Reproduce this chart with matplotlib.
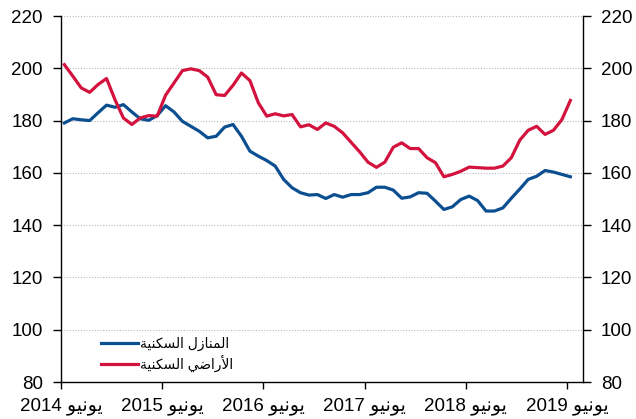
import matplotlib
matplotlib.use("Agg")
import matplotlib.pyplot as plt
import numpy as np

plt.rcParams['font.family'] = ['Liberation Sans', 'DejaVu Sans']

# monthly index, June 2014 .. June 2019
houses = [179.1, 180.7, 180.3, 180.0, 183.0, 185.9, 185.1, 186.1, 183.3, 180.7,
          180.1, 181.9, 185.7, 183.3, 179.7, 177.8, 175.9, 173.4, 174.0, 177.5,
          178.5, 174.0, 168.3, 166.4, 164.7, 162.6, 157.5, 154.3, 152.4, 151.5,
          151.7, 150.2, 151.7, 150.7, 151.7, 151.7, 152.4, 154.5, 154.5, 153.4,
          150.3, 150.8, 152.4, 152.2, 149.2, 146.0, 147.0, 149.8, 151.1, 149.4,
          145.4, 145.4, 146.6, 150.3, 153.8, 157.5, 158.7, 160.9, 160.3, 159.4,
          158.5]
land = [201.4, 197.0, 192.5, 190.8, 193.8, 196.1, 188.0, 181.0, 178.5, 181.0,
        181.9, 181.7, 189.7, 194.4, 199.1, 199.8, 199.1, 196.6, 189.9, 189.6,
        193.5, 198.2, 195.3, 186.8, 181.7, 182.6, 181.8, 182.3, 177.6, 178.4,
        176.6, 179.1, 177.8, 175.3, 171.7, 168.1, 164.1, 162.1, 164.1, 169.8,
        171.5, 169.3, 169.3, 165.8, 163.9, 158.5, 159.4, 160.6, 162.2, 162.0,
        161.8, 161.8, 162.6, 165.8, 172.5, 176.3, 177.8, 174.7, 176.3, 180.4,
        187.7]
years = [2014, 2015, 2016, 2017, 2018, 2019]

# Arabic written in presentation forms, visual (left-to-right) order
june = "\ufeee\ufef4\ufee7\ufeee\ufef3"
lbl_houses = "\ufe94\ufef4\ufee8\ufedc\ufeb4\ufedf\ufe8d \ufedd\ufeaf\ufe8e\ufee8\ufee4\ufedf\ufe8d"
lbl_land = "\ufe94\ufef4\ufee8\ufedc\ufeb4\ufedf\ufe8d \ufef2\ufebf\ufe8d\ufead\ufef7\ufe8d"

blue = '#0b4f91'
red = '#d3123e'

x = np.arange(len(houses)) + 0.4

fig = plt.figure(figsize=(6.36, 4.19), dpi=100)
ax = fig.add_axes([0.0959, 0.0883, 0.8208, 0.8735])

for v in range(100, 221, 20):
    ax.axhline(v, color='#b8b8b8', lw=0.8, ls=(0, (1, 1.5)), zorder=0, clip_on=False)

ax.plot(x, houses, color=blue, lw=2.3, label=lbl_houses, solid_joinstyle='round')
ax.plot(x, land, color=red, lw=2.3, label=lbl_land, solid_joinstyle='round')

ax.set_xlim(0, 61.9)
ax.set_ylim(80, 220)
ax.set_yticks(range(80, 221, 20))
ax.set_xticks([12 * i for i in range(len(years))])
ax.set_xticklabels([f"{y} {june}" for y in years])

ax.spines['top'].set_visible(False)
for s in ['left', 'right', 'bottom']:
    ax.spines[s].set_linewidth(1.0)
ax.tick_params(axis='y', which='both', left=True, right=True, labelleft=True,
               labelright=True, direction='out', length=6, width=1.0,
               labelsize=13.5, pad=7)
ax.tick_params(axis='x', direction='out', length=5, width=1.0, labelsize=13.5, pad=6)

leg = ax.legend(loc='lower left', bbox_to_anchor=(0.06, 0.005), frameon=False,
                fontsize=10, handlelength=2.7, handletextpad=0.1,
                labelspacing=0.28, borderaxespad=0.2)

fig.savefig('out.png', dpi=100)
